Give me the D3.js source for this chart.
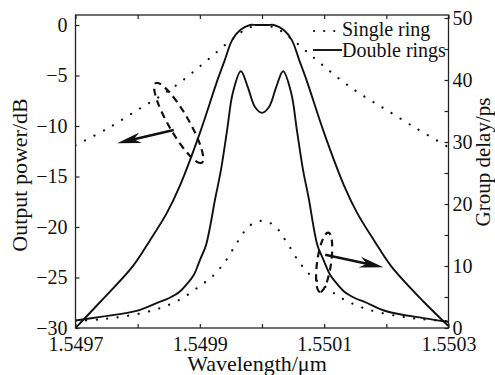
<!DOCTYPE html>
<html lang="en">
<head>
  <meta charset="UTF-8" />
  <title>Output power and group delay</title>
  <script src="https://d3js.org/d3.v7.min.js"></script>
  <style>
    body { margin: 0; background: #fff; }
    svg text { font-family: "Liberation Serif", "DejaVu Serif", serif; fill: #111; }
  </style>
</head>
<body>
  <svg width="495" height="375"></svg>

  <script>
    // wavelength in µm
    const wlDouble = [1.5497, 1.54974, 1.549792, 1.549819, 1.549847, 1.549868, 1.5499, 1.549927, 1.54994,
      1.549952, 1.549965, 1.549981, 1.54999, 1.55, 1.55001, 1.550019, 1.550035, 1.550048, 1.55006, 1.550073, 1.5501,
      1.550132, 1.550153, 1.550181, 1.550208, 1.55026, 1.5503];
    const powerDouble = [-30, -27.4, -23.9, -21.4, -18.6, -15.9, -10.7, -5.7, -3.5,
      -1.5, -0.5, 0, 0, 0, 0, 0, -0.5, -1.5, -3.5, -5.7, -10.7,
      -15.9, -18.6, -21.4, -23.9, -27.4, -29.8];

    const wlDelayDouble = [1.5497, 1.54974, 1.5498, 1.549835, 1.54985, 1.549868, 1.54988, 1.54989, 1.5499011,
      1.54991, 1.549925, 1.549934, 1.549944, 1.549953, 1.549966, 1.549977, 1.549989,
      1.55, 1.550011, 1.550023, 1.550034, 1.550047, 1.550056, 1.550066, 1.550075,
      1.550089, 1.550098, 1.55011, 1.55012, 1.550132, 1.55015, 1.550165, 1.5502, 1.55026, 1.5503];
    const delayDouble = [1.2, 1.8, 2.8, 4.2, 4.8, 5.9, 7.2, 8.5, 11.2,
      13.4, 21, 25.5, 32, 37.9, 41.4, 38.9, 35.6,
      34.7, 35.6, 38.9, 41.4, 37.9, 32, 25.5, 21,
      13.4, 11.2, 8.5, 7.2, 5.9, 4.8, 4.2, 2.7, 1.6, 1.0];

    const wlSingle = [1.5497, 1.54975, 1.5498, 1.54984, 1.54987, 1.5499, 1.549925, 1.54995, 1.549975,
      1.55, 1.550025, 1.55005, 1.550075, 1.5501, 1.55013, 1.55016, 1.5502, 1.55025, 1.5503];
    const powerSingle = [-11.9, -10.3, -8.4, -6.9, -5.6, -4.1, -2.8, -1.5, -0.4,
      0, -0.4, -1.5, -2.8, -4.1, -5.6, -6.9, -8.4, -10.3, -12.1];

    const wlDelaySingle = [1.5497, 1.54974, 1.54978, 1.54983, 1.54987, 1.5499, 1.54992, 1.54994, 1.54996, 1.54998,
      1.55, 1.55002, 1.55004, 1.55006, 1.55008, 1.5501, 1.55013, 1.55017, 1.55022, 1.55026, 1.5503];
    const delaySingle = [1.1, 1.4, 1.9, 3.0, 4.7, 6.8, 8.3, 10.6, 13.8, 16.5,
      17.3, 16.5, 13.8, 10.6, 8.3, 6.8, 4.7, 3.0, 1.9, 1.4, 1.1];

    const xTicks = [1.5497, 1.5498, 1.5499, 1.55, 1.5501, 1.5502, 1.5503];
    const xTickLabels = ["1.5497", "", "1.5499", "", "1.5501", "", "1.5503"];
    const dbTicks = [0, -5, -10, -15, -20, -25, -30];
    const psTicks = [0, 5, 10, 15, 20, 25, 30, 35, 40, 45, 50];
    const psTickLabels = ["0", "", "10", "", "20", "", "30", "", "40", "", "50"];

    const svg = d3.select("svg");
    const plotL = 75.5, plotR = 448.5, plotT = 15, plotB = 328;

    const x = d3.scaleLinear().domain([1.5497, 1.5503]).range([plotL, plotR]);
    const yDb = d3.scaleLinear().domain([-30, 0]).range([plotB, 25]);
    const yPs = d3.scaleLinear().domain([0, 50]).range([plotB, 18]);

    svg.append("clipPath").attr("id", "clip")
      .append("rect").attr("x", plotL).attr("y", plotT)
      .attr("width", plotR - plotL).attr("height", plotB - plotT);

    const g = svg.append("g").attr("clip-path", "url(#clip)");

    function drawLine(xs, ys, yScale, dotted) {
      const pts = xs.map((v, i) => [v, ys[i]]);
      const line = d3.line()
        .x(d => x(d[0]))
        .y(d => yScale(d[1]))
        .curve(d3.curveCatmullRom.alpha(0.5));
      const p = g.append("path")
        .attr("d", line(pts))
        .attr("fill", "none")
        .attr("stroke", "#111");
      if (dotted) {
        p.attr("stroke-width", 2.2).attr("stroke-linecap", "round").attr("stroke-dasharray", "0.1 10.5");
      } else {
        p.attr("stroke-width", 1.9);
      }
    }

    drawLine(wlSingle, powerSingle, yDb, true);
    drawLine(wlDelaySingle, delaySingle, yPs, true);
    drawLine(wlDouble, powerDouble, yDb, false);
    drawLine(wlDelayDouble, delayDouble, yPs, false);

    // frame
    svg.append("rect")
      .attr("x", plotL).attr("y", plotT)
      .attr("width", plotR - plotL).attr("height", plotB - plotT)
      .attr("fill", "none").attr("stroke", "#222").attr("stroke-width", 1.3);

    // axes, ticks inside
    svg.append("g").attr("transform", `translate(0,${plotB})`)
      .call(d3.axisBottom(x).tickValues(xTicks).tickSizeInner(-4).tickSizeOuter(0).tickPadding(9)
        .tickFormat((d, i) => xTickLabels[i]))
      .call(a => a.select(".domain").remove());
    svg.append("g").attr("transform", `translate(0,${plotT})`)
      .call(d3.axisTop(x).tickValues(xTicks).tickSizeInner(-4).tickSizeOuter(0).tickFormat(""))
      .call(a => a.select(".domain").remove());
    svg.append("g").attr("transform", `translate(${plotL},0)`)
      .call(d3.axisLeft(yDb).tickValues(dbTicks).tickSizeInner(-4).tickSizeOuter(0).tickPadding(8)
        .tickFormat(d => d < 0 ? "\u2212" + Math.abs(d) : d))
      .call(a => a.select(".domain").remove());
    svg.append("g").attr("transform", `translate(${plotR},0)`)
      .call(d3.axisRight(yPs).tickValues(psTicks).tickSizeInner(-4).tickSizeOuter(0).tickPadding(4)
        .tickFormat((d, i) => psTickLabels[i]))
      .call(a => a.select(".domain").remove());

    svg.selectAll(".tick line").attr("stroke", "#222").attr("stroke-width", 1.2);
    svg.selectAll(".tick text").attr("font-size", 20)
      .style("font-family", "'Liberation Serif', serif").attr("fill", "#111");

    // axis titles
    svg.append("text").attr("x", 257).attr("y", 371).attr("text-anchor", "middle")
      .attr("font-size", 22).text("Wavelength/\u03bcm");
    svg.append("text").attr("transform", "translate(27,175) rotate(-90)")
      .attr("text-anchor", "middle").attr("font-size", 22).text("Output power/dB");
    svg.append("text").attr("transform", "translate(490,162) rotate(-90)")
      .attr("text-anchor", "middle").attr("font-size", 21).text("Group delay/ps");

    // legend
    svg.append("line").attr("x1", 314).attr("x2", 340).attr("y1", 31).attr("y2", 31)
      .attr("stroke", "#111").attr("stroke-width", 2.2).attr("stroke-linecap", "round")
      .attr("stroke-dasharray", "0.1 10");
    svg.append("text").attr("x", 342).attr("y", 36).attr("font-size", 20).text("Single ring");
    svg.append("line").attr("x1", 313).attr("x2", 342).attr("y1", 50).attr("y2", 50)
      .attr("stroke", "#111").attr("stroke-width", 1.9);
    svg.append("text").attr("x", 342).attr("y", 57).attr("font-size", 20).text("Double rings");

    // annotations: dashed loops and arrows
    function loop(cx, cy, rx, ry, angle) {
      svg.append("ellipse")
        .attr("transform", `translate(${cx},${cy}) rotate(${angle})`)
        .attr("rx", rx).attr("ry", ry)
        .attr("fill", "none").attr("stroke", "#111").attr("stroke-width", 2.2)
        .attr("stroke-dasharray", "7 5");
    }
    function arrow(x1, y1, x2, y2) {
      const ang = Math.atan2(y2 - y1, x2 - x1);
      svg.append("line").attr("x1", x1).attr("y1", y1)
        .attr("x2", x2 - 12 * Math.cos(ang)).attr("y2", y2 - 12 * Math.sin(ang))
        .attr("stroke", "#111").attr("stroke-width", 2.6);
      const head = "M0,0 L-24,-5.5 L-17,0 L-24,5.5 Z";
      svg.append("path").attr("d", head)
        .attr("transform", `translate(${x2},${y2}) rotate(${ang * 180 / Math.PI})`)
        .attr("fill", "#111");
    }

    loop(x(1.549866), yDb(-9.7), 46, 10, 60);
    arrow(x(1.549858), yDb(-10.4), x(1.549767), yDb(-11.7));
    loop(x(1.5501), yPs(10.6), 30, 7, 98);
    arrow(x(1.5501016), yPs(11.8), x(1.5501952), yPs(9.8));
  </script>
</body>
</html>
